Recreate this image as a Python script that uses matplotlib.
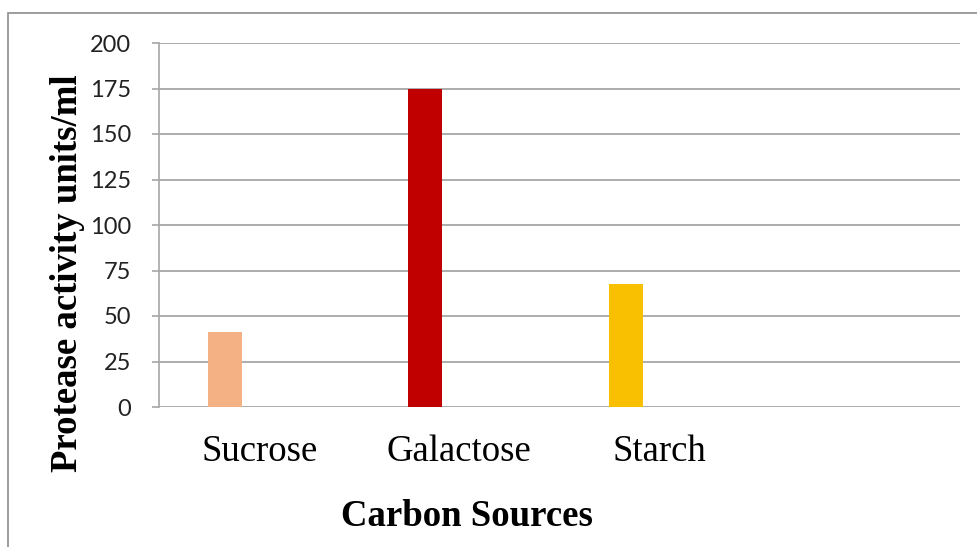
import matplotlib.pyplot as plt
from matplotlib.patches import Rectangle

# Carbon source data
sources = ["Sucrose", "Galactose", "Starch", ""]
activity = [41.2, 174.6, 67.6]
colors = ["#F4B183", "#C00000", "#F8C000"]
yticks = [0, 25, 50, 75, 100, 125, 150, 175, 200]

W, H = 977, 547
fig = plt.figure(figsize=(W / 100, H / 100), dpi=100)

# outer chart border
fig.patches.append(Rectangle((8 / W, -0.1), 1.2, 1 - 13 / H + 0.1,
                             transform=fig.transFigure, fill=False,
                             edgecolor="#8c8c8c", linewidth=1.2))

ax = fig.add_axes([159 / W, 1 - 407 / H, (960 - 159) / W, (407 - 43) / H])

bw = 0.17
for i, (v, c) in enumerate(zip(activity, colors)):
    ax.bar(i - bw, v, width=bw, color=c, zorder=3)

ax.set_xlim(-0.5, 3.5)
ax.set_ylim(0, 200)
ax.set_yticks(yticks)
ax.yaxis.grid(True, color="#a6a6a6", linewidth=1.3, zorder=0)
ax.set_xticks(range(len(sources)))
ax.set_xticklabels(sources, fontfamily="Liberation Serif", fontsize=26.5)
ax.tick_params(axis="x", length=0, pad=20)
ax.tick_params(axis="y", length=5, width=1.2, color="#a6a6a6", pad=15,
               labelsize=17)
for lab in ax.get_yticklabels():
    lab.set_fontfamily("Lato")
    lab.set_color("#222222")

for side in ["top", "right", "bottom"]:
    ax.spines[side].set_visible(False)
ax.spines["left"].set_color("#a6a6a6")
ax.spines["left"].set_linewidth(1.2)

fig.text(68 / W, 1 - 273 / H, "Protease activity units/ml", rotation=90,
         ha="center", va="center", fontfamily="Liberation Serif",
         fontweight="bold", fontsize=26.5)
fig.text(467 / W, 1 - 517 / H, "Carbon Sources", ha="center", va="center",
         fontfamily="Liberation Serif", fontweight="bold", fontsize=26.5)

fig.savefig("out.png", dpi=100)
